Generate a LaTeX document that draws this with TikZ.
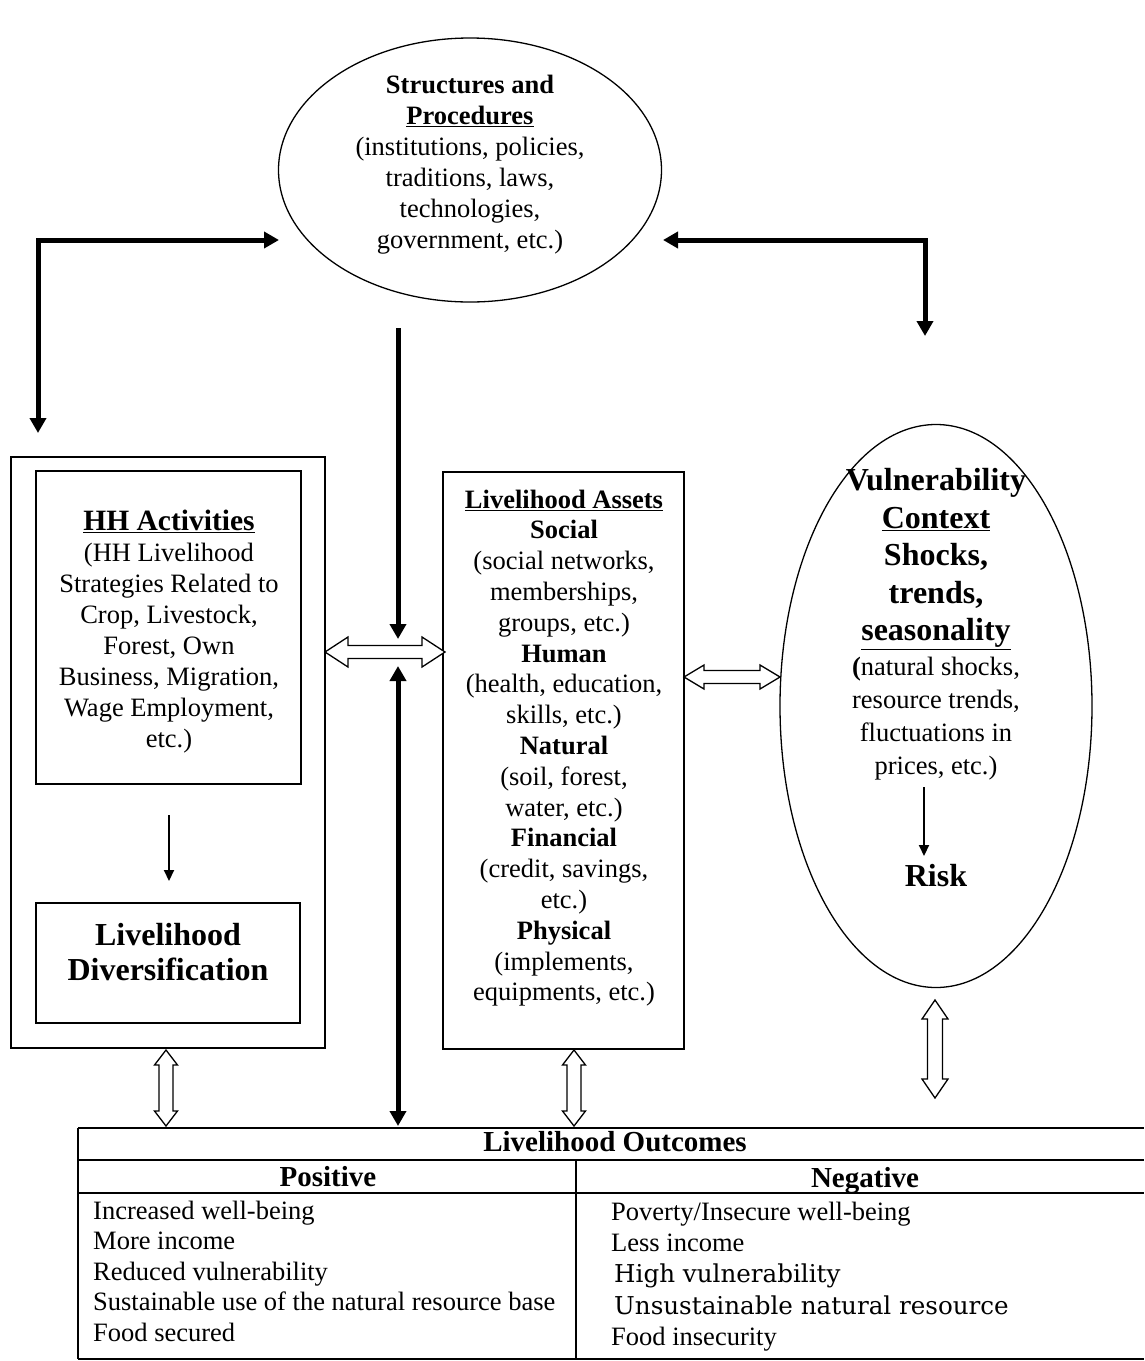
\documentclass[tikz,border=0pt]{standalone}
\usepackage{fontspec}
\setmainfont{Liberation Serif}
\newfontfamily\wideserif{DejaVu Serif}
\usetikzlibrary{arrows.meta,calc,shapes.geometric}
\tikzset{
  frame/.style={draw, line width=1.4pt, inner sep=0pt},
  oval/.style={draw, ellipse, line width=1.3pt, inner sep=0pt},
  txt/.style={inner sep=0pt, align=center, font=\fontsize{26.5}{31}\selectfont},
  tabtxt/.style={inner sep=0pt, align=left, font=\fontsize{26.5}{30.6}\selectfont},
  tabhead/.style={inner sep=0pt, font=\bfseries\fontsize{29}{32}\selectfont},
  thickline/.style={line width=5pt, line join=miter},
  bigtip/.tip={Triangle[length=15pt,width=16pt]},
  thinarrow/.style={line width=2pt, -{Triangle[length=11pt,width=10pt]}},
  hollow/.style={draw, line width=1.3pt, fill=white, line join=miter},
  rule/.style={line width=1.4pt}
}
% #1 start, #2 end, #3 shaft half width, #4 head half width, #5 head length
\newcommand\hollowarrow[5]{%
  \draw[hollow] (#1) -- ($(#1)!#5!(#2)!#4!90:(#2)$) -- ($(#1)!#5!(#2)!#3!90:(#2)$)
    -- ($(#2)!#5!(#1)!#3!-90:(#1)$) -- ($(#2)!#5!(#1)!#4!-90:(#1)$) -- (#2)
    -- ($(#2)!#5!(#1)!#4!90:(#1)$) -- ($(#2)!#5!(#1)!#3!90:(#1)$)
    -- ($(#1)!#5!(#2)!#3!-90:(#2)$) -- ($(#1)!#5!(#2)!#4!-90:(#2)$) -- cycle;}
\begin{document}
\begin{tikzpicture}[x=1pt,y=-1pt]
\useasboundingbox[fill=white] (0,0) rectangle (1144,1361);

% ---- shapes ----
\node[oval, minimum width=383pt, minimum height=264pt] (struct) at (470,170) {};
\node[frame, minimum width=314pt, minimum height=591pt] (outer) at (168,752.5) {};
\node[frame, minimum width=265pt, minimum height=313pt] (act) at (168.5,627.5) {};
\node[frame, minimum width=264pt, minimum height=120pt] (div) at (168,963) {};
\node[frame, minimum width=241pt, minimum height=577pt] (assets) at (563.5,760.5) {};
\node[oval, minimum width=312pt, minimum height=563pt] (vuln) at (936,706) {};

% ---- texts ----
\node[txt, anchor=north] (structtxt) at (470,74.5)
  {\textbf{Structures and}\\\textbf{\underline{Procedures}}\\(institutions, policies,\\traditions, laws,\\technologies,\\government, etc.)};
\node[txt, anchor=north] (acttxt) at (169,510)
  {{\fontsize{29.5}{31}\selectfont\textbf{\underline{HH Activities}}}\\(HH Livelihood\\Strategies Related to\\Crop, Livestock,\\Forest, Own\\Business, Migration,\\Wage Employment,\\etc.)};
\node[txt, anchor=north, font=\bfseries\fontsize{32}{35}\selectfont] (divtxt) at (168,923.5)
  {Livelihood\\Diversification};
\node[txt, anchor=north, font=\fontsize{26.5}{30.8}\selectfont] (assetstxt) at (564,489.5)
  {\textbf{\underline{Livelihood Assets}}\\\textbf{Social}\\(social networks,\\memberships,\\groups, etc.)\\\textbf{Human}\\(health, education,\\skills, etc.)\\\textbf{Natural}\\(soil, forest,\\water, etc.)\\\textbf{Financial}\\(credit, savings,\\etc.)\\\textbf{Physical}\\(implements,\\equipments, etc.)};
\node[txt, anchor=north, font=\bfseries\fontsize{32}{37.5}\selectfont] (vulntitle) at (936,468.5)
  {Vulnerability\\\underline{Context}\\Shocks,\\trends,\\\underline{seasonality}};
\node[txt, anchor=north, font=\fontsize{26.5}{33}\selectfont] (vulndesc) at (936,656.5)
  {\textbf{(}natural shocks,\\resource trends,\\fluctuations in\\prices, etc.)};
\node[txt, anchor=base, font=\bfseries\fontsize{32}{34}\selectfont] (risk) at (936,886) {Risk};

% ---- table ----
\coordinate (tTL) at (78,1128);
\coordinate (tTR) at (1144,1128);
\coordinate (tBL) at (78,1359);
\coordinate (tBR) at (1144,1359);
\coordinate (r1L) at (78,1160);
\coordinate (r1R) at (1144,1160);
\coordinate (r2L) at (78,1193);
\coordinate (r2R) at (1144,1193);
\coordinate (cT) at (576,1160);
\coordinate (cB) at (576,1359);
\draw[rule] (tTL) -- (tTR);
\draw[rule] (r1L) -- (r1R);
\draw[rule] (r2L) -- (r2R);
\draw[rule] (tBL) -- (tBR);
\draw[rule] (tTL) -- (tBL);
\draw[rule] (cT) -- (cB);
\node[tabhead, anchor=base] (outcomes) at (615,1151) {Livelihood Outcomes};
\node[tabhead, anchor=base] (positive) at (328,1186.5) {Positive};
\node[tabhead, anchor=base] (negative) at (865,1187.5) {Negative};
\node[tabtxt, anchor=north west] (poslist) at (93,1200.5)
  {Increased well-being\\More income\\Reduced vulnerability\\Sustainable use of the natural resource base\\Food secured};
\node[tabtxt, anchor=north west, font=\fontsize{26.5}{31.3}\selectfont] (neglist) at (611,1201.5)
  {Poverty/Insecure well-being\\Less income\\{\wideserif\fontsize{24.6}{31.3}\selectfont\hspace{3pt}High vulnerability}\\{\wideserif\fontsize{24.6}{31.3}\selectfont\hspace{3pt}Unsustainable natural resource}\\Food insecurity};

% ---- thick connectors ----
\coordinate (tl) at (38,240);
\coordinate (tlE) at (279,240);
\coordinate (tlS) at (38,433);
\draw[thickline, bigtip-bigtip] (tlS) -- (tl) -- (tlE);
\coordinate (tr) at (925,240);
\coordinate (trW) at (663,240);
\coordinate (trS) at (925,336);
\draw[thickline, bigtip-bigtip] (trW) -- (tr) -- (trS);
\coordinate (mtop) at (398,328);
\coordinate (mbot) at (398,639);
\draw[thickline, -bigtip] (mtop) -- (mbot);
\coordinate (ltop) at (398,666);
\coordinate (lbot) at (398,1126);
\draw[thickline, bigtip-bigtip] (ltop) -- (lbot);

% ---- thin connectors ----
\coordinate (a1) at (169,815);
\coordinate (a2) at (169,881);
\draw[thinarrow] (a1) -- (a2);
\coordinate (r1) at (924,787);
\coordinate (r2) at (924,856);
\draw[thinarrow] (r1) -- (r2);

% ---- hollow double arrows ----
\coordinate (h1a) at (325,652);
\coordinate (h1b) at (445,652);
\hollowarrow{h1a}{h1b}{6.5pt}{15pt}{23pt}
\coordinate (h2a) at (684,677);
\coordinate (h2b) at (780,677);
\hollowarrow{h2a}{h2b}{6.5pt}{12pt}{20pt}
\coordinate (v1a) at (166,1050);
\coordinate (v1b) at (166,1126);
\hollowarrow{v1a}{v1b}{7pt}{11.5pt}{15pt}
\coordinate (v2a) at (574,1050);
\coordinate (v2b) at (574,1126);
\hollowarrow{v2a}{v2b}{7pt}{11.5pt}{15pt}
\coordinate (v3a) at (935,1000);
\coordinate (v3b) at (935,1098);
\hollowarrow{v3a}{v3b}{7.5pt}{13pt}{19pt}
\end{tikzpicture}
\end{document}
